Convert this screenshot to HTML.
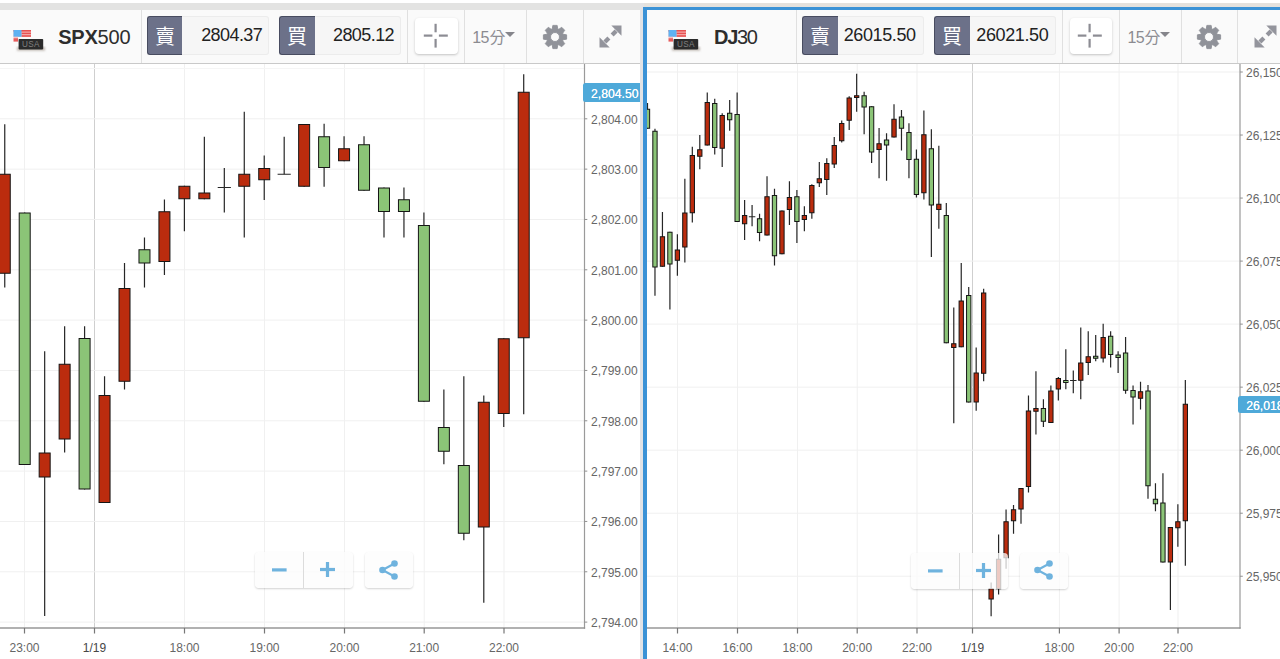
<!DOCTYPE html>
<html><head><meta charset="utf-8"><title>charts</title>
<style>
html,body{margin:0;padding:0;}
body{width:1280px;height:659px;overflow:hidden;background:#fff;position:relative;font-family:"Liberation Sans",sans-serif;}
.strip{position:absolute;left:0;top:3px;height:7px;background:#e3e3e2;}
.strip.l{width:640px;}
.strip.r{left:640px;width:640px;height:4px;background:#e4e1dd;}
.gap{position:absolute;left:639.5px;top:3px;width:4px;height:656px;background:#e2e3e6;}
.blueL{position:absolute;left:643.3px;top:6.6px;width:3.6px;height:653px;background:#3b92d6;}
.blueT{position:absolute;left:643.3px;top:6.6px;width:637px;height:3.5px;background:#3b92d6;}
.chart{position:absolute;left:0;top:0;}
.hdr{position:absolute;top:10px;height:52.5px;background:#fafafa;border-bottom:1px solid #c9c9c9;}
.hdr.l{left:0;width:639.5px;}
.hdr.r{left:647px;width:633px;}
.dv1{position:absolute;top:0;width:1px;height:52.5px;background:#e0e0e0;}
.cjk{display:inline-block;vertical-align:middle;}
.flag{position:absolute;top:18px;left:0;}
.sym{position:absolute;top:15.1px;font-size:20px;color:#2d2d2d;letter-spacing:-0.45px;white-space:nowrap;line-height:24px;}
.sym b{font-weight:bold;}
.q{position:absolute;top:5.5px;height:39.5px;}
.tag{position:absolute;left:0;top:0;width:35.5px;height:39.5px;background:#6c7189;border:1px solid #484c60;border-right:none;box-sizing:border-box;border-radius:3px 0 0 3px;}
.tag svg{position:absolute;left:6.2px;top:10.4px;}
.val{position:absolute;left:35.5px;top:0.5px;height:38.5px;box-sizing:border-box;background:#f6f6f6;border:1px solid #ececec;border-left:none;border-radius:0 3px 3px 0;font-size:18px;color:#222;line-height:37.8px;text-align:right;}
.xbtn{position:absolute;top:8.3px;width:42.6px;height:36px;background:#fff;border-radius:4px;box-shadow:0 1px 2.5px rgba(0,0,0,0.22);}
.xbtn svg{position:absolute;left:7.5px;top:4.9px;}
.tf{color:#8b8b91;font-size:16px;position:absolute;left:0;top:0;}
.t15{position:absolute;top:18.7px;line-height:18px;letter-spacing:-0.5px;}
.tf .cjk{position:absolute !important;}
.caret{position:absolute;width:0;height:0;border-left:5.2px solid transparent;border-right:5.2px solid transparent;border-top:5.9px solid #85858b;}
.gear,.expand{position:absolute;}
.zb{position:absolute;height:36px;background:rgba(252,252,252,0.76);border-radius:4px;box-shadow:0 1px 2px rgba(0,0,0,0.18);}
.zb .dv{position:absolute;left:48.2px;top:0;width:1px;height:36px;background:#dcdcdc;}
.zb svg{position:absolute;}
.tagp{position:absolute;background:#4ea9d9;color:#fff;font-size:12.2px;line-height:18.5px;height:18.5px;border-radius:2.5px 0 0 2.5px;box-sizing:border-box;white-space:nowrap;overflow:hidden;text-shadow:0 0 0.6px #fff;}
</style></head><body>
<div class="strip l"></div><div class="strip r"></div>
<svg class="chart" width="1280" height="659" viewBox="0 0 1280 659">
<g>
<rect x="24" y="63" width="1" height="565" fill="#f0f0f0"/>
<rect x="184" y="63" width="1" height="565" fill="#f0f0f0"/>
<rect x="264" y="63" width="1" height="565" fill="#f0f0f0"/>
<rect x="344" y="63" width="1" height="565" fill="#f0f0f0"/>
<rect x="423.7" y="63" width="1" height="565" fill="#f0f0f0"/>
<rect x="503.5" y="63" width="1" height="565" fill="#f0f0f0"/>
<rect x="94" y="63" width="1" height="565" fill="#cfcfcf"/>
<rect x="0" y="118.3" width="584" height="1" fill="#f0f0f0"/>
<rect x="0" y="168.63" width="584" height="1" fill="#f0f0f0"/>
<rect x="0" y="218.96" width="584" height="1" fill="#f0f0f0"/>
<rect x="0" y="269.29" width="584" height="1" fill="#f0f0f0"/>
<rect x="0" y="319.62" width="584" height="1" fill="#f0f0f0"/>
<rect x="0" y="369.95" width="584" height="1" fill="#f0f0f0"/>
<rect x="0" y="420.28" width="584" height="1" fill="#f0f0f0"/>
<rect x="0" y="470.61" width="584" height="1" fill="#f0f0f0"/>
<rect x="0" y="520.94" width="584" height="1" fill="#f0f0f0"/>
<rect x="0" y="571.27" width="584" height="1" fill="#f0f0f0"/>
<rect x="0" y="621.6" width="584" height="1" fill="#f0f0f0"/>
<rect x="0" y="68" width="584" height="1" fill="#f5f5f5"/>
<rect x="677" y="63" width="1" height="565" fill="#f0f0f0"/>
<rect x="737" y="63" width="1" height="565" fill="#f0f0f0"/>
<rect x="797" y="63" width="1" height="565" fill="#f0f0f0"/>
<rect x="856.7" y="63" width="1" height="565" fill="#f0f0f0"/>
<rect x="916.5" y="63" width="1" height="565" fill="#f0f0f0"/>
<rect x="1058.9" y="63" width="1" height="565" fill="#f0f0f0"/>
<rect x="1118.6" y="63" width="1" height="565" fill="#f0f0f0"/>
<rect x="1177.5" y="63" width="1" height="565" fill="#f0f0f0"/>
<rect x="972" y="63" width="1" height="565" fill="#cfcfcf"/>
<rect x="647" y="71.5" width="593" height="1" fill="#f0f0f0"/>
<rect x="647" y="134.53" width="593" height="1" fill="#f0f0f0"/>
<rect x="647" y="197.56" width="593" height="1" fill="#f0f0f0"/>
<rect x="647" y="260.59" width="593" height="1" fill="#f0f0f0"/>
<rect x="647" y="323.62" width="593" height="1" fill="#f0f0f0"/>
<rect x="647" y="386.65" width="593" height="1" fill="#f0f0f0"/>
<rect x="647" y="449.68" width="593" height="1" fill="#f0f0f0"/>
<rect x="647" y="512.71" width="593" height="1" fill="#f0f0f0"/>
<rect x="647" y="575.74" width="593" height="1" fill="#f0f0f0"/>
</g>
<g>
<rect x="4.15" y="124.25" width="1.2" height="163.25" fill="#262626"/>
<rect x="-0.75" y="174.25" width="11" height="99" fill="#bb2c0e" stroke="#151515" stroke-width="1"/>
<rect x="24.11" y="212.5" width="1.2" height="252.5" fill="#262626"/>
<rect x="19.21" y="213" width="11" height="251.5" fill="#8bc477" stroke="#151515" stroke-width="1"/>
<rect x="44.07" y="351.25" width="1.2" height="264.75" fill="#262626"/>
<rect x="39.17" y="453" width="11" height="24" fill="#bb2c0e" stroke="#151515" stroke-width="1"/>
<rect x="64.03" y="326.25" width="1.2" height="126.25" fill="#262626"/>
<rect x="59.13" y="364.25" width="11" height="74.75" fill="#bb2c0e" stroke="#151515" stroke-width="1"/>
<rect x="83.99" y="326.25" width="1.2" height="163.25" fill="#262626"/>
<rect x="79.09" y="338.5" width="11" height="150.5" fill="#8bc477" stroke="#151515" stroke-width="1"/>
<rect x="103.95" y="376.25" width="1.2" height="126.75" fill="#262626"/>
<rect x="99.05" y="395.5" width="11" height="107" fill="#bb2c0e" stroke="#151515" stroke-width="1"/>
<rect x="123.91" y="263" width="1.2" height="126.5" fill="#262626"/>
<rect x="119.01" y="288.5" width="11" height="92.75" fill="#bb2c0e" stroke="#151515" stroke-width="1"/>
<rect x="143.87" y="237.5" width="1.2" height="50" fill="#262626"/>
<rect x="138.97" y="249.75" width="11" height="13.25" fill="#8bc477" stroke="#151515" stroke-width="1"/>
<rect x="163.83" y="199.5" width="1.2" height="75.5" fill="#262626"/>
<rect x="158.93" y="211.75" width="11" height="49.75" fill="#bb2c0e" stroke="#151515" stroke-width="1"/>
<rect x="183.79" y="185.75" width="1.2" height="45.5" fill="#262626"/>
<rect x="178.89" y="186.25" width="11" height="12.5" fill="#bb2c0e" stroke="#151515" stroke-width="1"/>
<rect x="203.75" y="136.75" width="1.2" height="62.5" fill="#262626"/>
<rect x="198.85" y="193" width="11" height="5.75" fill="#bb2c0e" stroke="#151515" stroke-width="1"/>
<rect x="223.71" y="168" width="1.2" height="44.5" fill="#262626"/>
<rect x="217.71" y="187" width="13.2" height="1" fill="#262626"/>
<rect x="243.67" y="111.75" width="1.2" height="125.75" fill="#262626"/>
<rect x="238.77" y="174.25" width="11" height="12" fill="#bb2c0e" stroke="#151515" stroke-width="1"/>
<rect x="263.63" y="155.5" width="1.2" height="44.5" fill="#262626"/>
<rect x="258.73" y="168.5" width="11" height="11.25" fill="#bb2c0e" stroke="#151515" stroke-width="1"/>
<rect x="283.59" y="136.75" width="1.2" height="37.5" fill="#262626"/>
<rect x="277.59" y="173.75" width="13.2" height="1" fill="#262626"/>
<rect x="303.55" y="124" width="1.2" height="62.75" fill="#262626"/>
<rect x="298.65" y="124.5" width="11" height="61.75" fill="#bb2c0e" stroke="#151515" stroke-width="1"/>
<rect x="323.51" y="123.75" width="1.2" height="63" fill="#262626"/>
<rect x="318.61" y="136.75" width="11" height="30.75" fill="#8bc477" stroke="#151515" stroke-width="1"/>
<rect x="343.47" y="136.25" width="1.2" height="25" fill="#262626"/>
<rect x="338.57" y="148.75" width="11" height="12" fill="#bb2c0e" stroke="#151515" stroke-width="1"/>
<rect x="363.43" y="136.25" width="1.2" height="54.5" fill="#262626"/>
<rect x="358.53" y="144.75" width="11" height="45.5" fill="#8bc477" stroke="#151515" stroke-width="1"/>
<rect x="383.39" y="187.5" width="1.2" height="50" fill="#262626"/>
<rect x="378.49" y="188" width="11" height="23.5" fill="#8bc477" stroke="#151515" stroke-width="1"/>
<rect x="403.35" y="187.5" width="1.2" height="50" fill="#262626"/>
<rect x="398.45" y="199.75" width="11" height="11.75" fill="#8bc477" stroke="#151515" stroke-width="1"/>
<rect x="423.31" y="212.5" width="1.2" height="189.25" fill="#262626"/>
<rect x="418.41" y="225.5" width="11" height="175.75" fill="#8bc477" stroke="#151515" stroke-width="1"/>
<rect x="443.27" y="389.5" width="1.2" height="74.75" fill="#262626"/>
<rect x="438.37" y="427.5" width="11" height="23.75" fill="#8bc477" stroke="#151515" stroke-width="1"/>
<rect x="463.23" y="376.25" width="1.2" height="164" fill="#262626"/>
<rect x="458.33" y="465.5" width="11" height="67.75" fill="#8bc477" stroke="#151515" stroke-width="1"/>
<rect x="483.19" y="395.5" width="1.2" height="207.25" fill="#262626"/>
<rect x="478.29" y="402.25" width="11" height="124.75" fill="#bb2c0e" stroke="#151515" stroke-width="1"/>
<rect x="503.15" y="338.25" width="1.2" height="88.75" fill="#262626"/>
<rect x="498.25" y="338.75" width="11" height="74.75" fill="#bb2c0e" stroke="#151515" stroke-width="1"/>
<rect x="523.11" y="74.25" width="1.2" height="340" fill="#262626"/>
<rect x="518.21" y="92.25" width="11" height="245.5" fill="#bb2c0e" stroke="#151515" stroke-width="1"/>
</g>
<g>
<rect x="646.9" y="103" width="1.2" height="25.75" fill="#262626"/>
<rect x="645.35" y="109.25" width="4.3" height="19" fill="#8bc477" stroke="#151515" stroke-width="1"/>
<rect x="654.37" y="128.75" width="1.2" height="167" fill="#262626"/>
<rect x="652.82" y="131.25" width="4.3" height="135.75" fill="#8bc477" stroke="#151515" stroke-width="1"/>
<rect x="661.84" y="212" width="1.2" height="54.75" fill="#262626"/>
<rect x="660.29" y="236.75" width="4.3" height="29.5" fill="#bb2c0e" stroke="#151515" stroke-width="1"/>
<rect x="669.31" y="231.75" width="1.2" height="77.75" fill="#262626"/>
<rect x="667.76" y="232.25" width="4.3" height="31.75" fill="#8bc477" stroke="#151515" stroke-width="1"/>
<rect x="676.78" y="234.25" width="1.2" height="41.5" fill="#262626"/>
<rect x="675.23" y="250" width="4.3" height="10.25" fill="#bb2c0e" stroke="#151515" stroke-width="1"/>
<rect x="684.25" y="178.75" width="1.2" height="83.75" fill="#262626"/>
<rect x="682.7" y="213" width="4.3" height="34" fill="#bb2c0e" stroke="#151515" stroke-width="1"/>
<rect x="691.72" y="146.75" width="1.2" height="75.75" fill="#262626"/>
<rect x="690.17" y="155.5" width="4.3" height="57.25" fill="#bb2c0e" stroke="#151515" stroke-width="1"/>
<rect x="699.19" y="135" width="1.2" height="34.25" fill="#262626"/>
<rect x="697.64" y="149.75" width="4.3" height="6.5" fill="#bb2c0e" stroke="#151515" stroke-width="1"/>
<rect x="706.66" y="92.5" width="1.2" height="53" fill="#262626"/>
<rect x="705.11" y="102.5" width="4.3" height="42.5" fill="#bb2c0e" stroke="#151515" stroke-width="1"/>
<rect x="714.13" y="98.75" width="1.2" height="55.75" fill="#262626"/>
<rect x="712.58" y="103.5" width="4.3" height="44" fill="#8bc477" stroke="#151515" stroke-width="1"/>
<rect x="721.6" y="113.25" width="1.2" height="53.75" fill="#262626"/>
<rect x="720.05" y="115.5" width="4.3" height="32.75" fill="#bb2c0e" stroke="#151515" stroke-width="1"/>
<rect x="729.07" y="100" width="1.2" height="30.75" fill="#262626"/>
<rect x="727.52" y="113.25" width="4.3" height="6.5" fill="#8bc477" stroke="#151515" stroke-width="1"/>
<rect x="736.54" y="92.5" width="1.2" height="129.5" fill="#262626"/>
<rect x="734.99" y="114.5" width="4.3" height="107" fill="#8bc477" stroke="#151515" stroke-width="1"/>
<rect x="744.01" y="200" width="1.2" height="40" fill="#262626"/>
<rect x="742.46" y="215.5" width="4.3" height="8.25" fill="#bb2c0e" stroke="#151515" stroke-width="1"/>
<rect x="751.48" y="205" width="1.2" height="21.25" fill="#262626"/>
<rect x="748.83" y="216.25" width="6.5" height="1" fill="#262626"/>
<rect x="758.95" y="213.75" width="1.2" height="27.5" fill="#262626"/>
<rect x="757.4" y="218.75" width="4.3" height="13.75" fill="#8bc477" stroke="#151515" stroke-width="1"/>
<rect x="766.42" y="176.25" width="1.2" height="59.25" fill="#262626"/>
<rect x="764.87" y="196.75" width="4.3" height="38.25" fill="#bb2c0e" stroke="#151515" stroke-width="1"/>
<rect x="773.89" y="188.75" width="1.2" height="76.75" fill="#262626"/>
<rect x="772.34" y="195.5" width="4.3" height="60.25" fill="#8bc477" stroke="#151515" stroke-width="1"/>
<rect x="781.36" y="210.5" width="1.2" height="43.75" fill="#262626"/>
<rect x="779.81" y="211" width="4.3" height="42.75" fill="#bb2c0e" stroke="#151515" stroke-width="1"/>
<rect x="788.83" y="181.25" width="1.2" height="43.75" fill="#262626"/>
<rect x="787.28" y="197.5" width="4.3" height="12" fill="#bb2c0e" stroke="#151515" stroke-width="1"/>
<rect x="796.3" y="190" width="1.2" height="53" fill="#262626"/>
<rect x="794.75" y="196.75" width="4.3" height="24.75" fill="#8bc477" stroke="#151515" stroke-width="1"/>
<rect x="803.77" y="206.25" width="1.2" height="25" fill="#262626"/>
<rect x="802.22" y="215.5" width="4.3" height="4" fill="#bb2c0e" stroke="#151515" stroke-width="1"/>
<rect x="811.24" y="184.25" width="1.2" height="34.5" fill="#262626"/>
<rect x="809.69" y="185.5" width="4.3" height="27.25" fill="#bb2c0e" stroke="#151515" stroke-width="1"/>
<rect x="818.71" y="162" width="1.2" height="25" fill="#262626"/>
<rect x="817.16" y="178.75" width="4.3" height="4" fill="#bb2c0e" stroke="#151515" stroke-width="1"/>
<rect x="826.18" y="158.25" width="1.2" height="36.75" fill="#262626"/>
<rect x="824.63" y="163.5" width="4.3" height="16" fill="#bb2c0e" stroke="#151515" stroke-width="1"/>
<rect x="833.65" y="137" width="1.2" height="31" fill="#262626"/>
<rect x="832.1" y="145.5" width="4.3" height="18.5" fill="#bb2c0e" stroke="#151515" stroke-width="1"/>
<rect x="841.12" y="120.5" width="1.2" height="22" fill="#262626"/>
<rect x="839.57" y="123.5" width="4.3" height="17.25" fill="#bb2c0e" stroke="#151515" stroke-width="1"/>
<rect x="848.59" y="96.25" width="1.2" height="33.75" fill="#262626"/>
<rect x="847.04" y="98" width="4.3" height="22.25" fill="#bb2c0e" stroke="#151515" stroke-width="1"/>
<rect x="856.06" y="73.75" width="1.2" height="38" fill="#262626"/>
<rect x="854.51" y="95.75" width="4.3" height="1.75" fill="#bb2c0e" stroke="#151515" stroke-width="1"/>
<rect x="863.53" y="91.75" width="1.2" height="42.5" fill="#262626"/>
<rect x="861.98" y="95.75" width="4.3" height="11.25" fill="#8bc477" stroke="#151515" stroke-width="1"/>
<rect x="871" y="106.25" width="1.2" height="56.75" fill="#262626"/>
<rect x="869.45" y="106.75" width="4.3" height="45.25" fill="#8bc477" stroke="#151515" stroke-width="1"/>
<rect x="878.47" y="128" width="1.2" height="50.25" fill="#262626"/>
<rect x="876.92" y="143.75" width="4.3" height="5.75" fill="#bb2c0e" stroke="#151515" stroke-width="1"/>
<rect x="885.94" y="133.25" width="1.2" height="47.5" fill="#262626"/>
<rect x="884.39" y="140" width="4.3" height="5" fill="#8bc477" stroke="#151515" stroke-width="1"/>
<rect x="893.41" y="104.25" width="1.2" height="33.25" fill="#262626"/>
<rect x="891.86" y="119.25" width="4.3" height="17.75" fill="#bb2c0e" stroke="#151515" stroke-width="1"/>
<rect x="900.88" y="110" width="1.2" height="40.5" fill="#262626"/>
<rect x="899.33" y="117" width="4.3" height="11.25" fill="#8bc477" stroke="#151515" stroke-width="1"/>
<rect x="908.35" y="123.25" width="1.2" height="55" fill="#262626"/>
<rect x="906.8" y="132.5" width="4.3" height="27" fill="#8bc477" stroke="#151515" stroke-width="1"/>
<rect x="915.82" y="149.5" width="1.2" height="48" fill="#262626"/>
<rect x="914.27" y="159.25" width="4.3" height="35.25" fill="#8bc477" stroke="#151515" stroke-width="1"/>
<rect x="923.29" y="110.5" width="1.2" height="89" fill="#262626"/>
<rect x="921.74" y="134.75" width="4.3" height="58" fill="#bb2c0e" stroke="#151515" stroke-width="1"/>
<rect x="930.76" y="129.25" width="1.2" height="127.75" fill="#262626"/>
<rect x="929.21" y="148.75" width="4.3" height="56.25" fill="#8bc477" stroke="#151515" stroke-width="1"/>
<rect x="938.23" y="145.75" width="1.2" height="83" fill="#262626"/>
<rect x="936.68" y="204.25" width="4.3" height="5.25" fill="#bb2c0e" stroke="#151515" stroke-width="1"/>
<rect x="945.7" y="203" width="1.2" height="140.25" fill="#262626"/>
<rect x="944.15" y="215.5" width="4.3" height="127.25" fill="#8bc477" stroke="#151515" stroke-width="1"/>
<rect x="953.17" y="307.5" width="1.2" height="115.75" fill="#262626"/>
<rect x="951.62" y="343.75" width="4.3" height="3.75" fill="#bb2c0e" stroke="#151515" stroke-width="1"/>
<rect x="960.64" y="263" width="1.2" height="84.25" fill="#262626"/>
<rect x="959.09" y="301" width="4.3" height="45.75" fill="#bb2c0e" stroke="#151515" stroke-width="1"/>
<rect x="968.11" y="287" width="1.2" height="115.5" fill="#262626"/>
<rect x="966.56" y="295.5" width="4.3" height="106.5" fill="#8bc477" stroke="#151515" stroke-width="1"/>
<rect x="975.58" y="347.5" width="1.2" height="63.25" fill="#262626"/>
<rect x="974.03" y="373" width="4.3" height="29" fill="#bb2c0e" stroke="#151515" stroke-width="1"/>
<rect x="983.05" y="288.75" width="1.2" height="92.5" fill="#262626"/>
<rect x="981.5" y="293" width="4.3" height="80.25" fill="#bb2c0e" stroke="#151515" stroke-width="1"/>
<rect x="990.52" y="582.5" width="1.2" height="33.75" fill="#262626"/>
<rect x="988.97" y="588.75" width="4.3" height="10.25" fill="#bb2c0e" stroke="#151515" stroke-width="1"/>
<rect x="997.99" y="534.5" width="1.2" height="60" fill="#262626"/>
<rect x="996.44" y="559.25" width="4.3" height="29.5" fill="#bb2c0e" stroke="#151515" stroke-width="1"/>
<rect x="1005.46" y="509.5" width="1.2" height="59.25" fill="#262626"/>
<rect x="1003.91" y="521.75" width="4.3" height="36" fill="#bb2c0e" stroke="#151515" stroke-width="1"/>
<rect x="1012.93" y="505" width="1.2" height="28.75" fill="#262626"/>
<rect x="1011.38" y="509.75" width="4.3" height="11" fill="#bb2c0e" stroke="#151515" stroke-width="1"/>
<rect x="1020.4" y="488" width="1.2" height="35.75" fill="#262626"/>
<rect x="1018.85" y="488.5" width="4.3" height="20.5" fill="#bb2c0e" stroke="#151515" stroke-width="1"/>
<rect x="1027.87" y="395.5" width="1.2" height="97" fill="#262626"/>
<rect x="1026.32" y="411" width="4.3" height="75.5" fill="#bb2c0e" stroke="#151515" stroke-width="1"/>
<rect x="1035.34" y="371.25" width="1.2" height="63.25" fill="#262626"/>
<rect x="1033.79" y="408.5" width="4.3" height="2.75" fill="#bb2c0e" stroke="#151515" stroke-width="1"/>
<rect x="1042.81" y="399.25" width="1.2" height="27.75" fill="#262626"/>
<rect x="1041.26" y="408.5" width="4.3" height="12.75" fill="#8bc477" stroke="#151515" stroke-width="1"/>
<rect x="1050.28" y="385.5" width="1.2" height="37.5" fill="#262626"/>
<rect x="1048.73" y="391" width="4.3" height="31.5" fill="#bb2c0e" stroke="#151515" stroke-width="1"/>
<rect x="1057.75" y="377" width="1.2" height="23.5" fill="#262626"/>
<rect x="1056.2" y="378.5" width="4.3" height="10.5" fill="#bb2c0e" stroke="#151515" stroke-width="1"/>
<rect x="1065.22" y="349.25" width="1.2" height="40" fill="#262626"/>
<rect x="1063.67" y="380.5" width="4.3" height="2" fill="#8bc477" stroke="#151515" stroke-width="1"/>
<rect x="1072.69" y="370.5" width="1.2" height="22.75" fill="#262626"/>
<rect x="1070.04" y="380" width="6.5" height="1" fill="#262626"/>
<rect x="1080.16" y="327.5" width="1.2" height="71.75" fill="#262626"/>
<rect x="1078.61" y="363" width="4.3" height="17.25" fill="#bb2c0e" stroke="#151515" stroke-width="1"/>
<rect x="1087.63" y="331.25" width="1.2" height="43.75" fill="#262626"/>
<rect x="1086.08" y="356.75" width="4.3" height="5.75" fill="#bb2c0e" stroke="#151515" stroke-width="1"/>
<rect x="1095.1" y="335" width="1.2" height="26.25" fill="#262626"/>
<rect x="1093.55" y="356.25" width="4.3" height="2" fill="#8bc477" stroke="#151515" stroke-width="1"/>
<rect x="1102.57" y="323.75" width="1.2" height="38.75" fill="#262626"/>
<rect x="1101.02" y="337.5" width="4.3" height="20.5" fill="#bb2c0e" stroke="#151515" stroke-width="1"/>
<rect x="1110.04" y="331.25" width="1.2" height="36.25" fill="#262626"/>
<rect x="1108.49" y="336.25" width="4.3" height="18.25" fill="#8bc477" stroke="#151515" stroke-width="1"/>
<rect x="1117.51" y="351.25" width="1.2" height="21.75" fill="#262626"/>
<rect x="1115.96" y="355" width="4.3" height="2.5" fill="#8bc477" stroke="#151515" stroke-width="1"/>
<rect x="1124.98" y="337" width="1.2" height="56.75" fill="#262626"/>
<rect x="1123.43" y="353" width="4.3" height="37.25" fill="#8bc477" stroke="#151515" stroke-width="1"/>
<rect x="1132.45" y="385.5" width="1.2" height="39" fill="#262626"/>
<rect x="1130.9" y="390.5" width="4.3" height="6.5" fill="#8bc477" stroke="#151515" stroke-width="1"/>
<rect x="1139.92" y="381.75" width="1.2" height="27.75" fill="#262626"/>
<rect x="1138.37" y="391.75" width="4.3" height="6.5" fill="#bb2c0e" stroke="#151515" stroke-width="1"/>
<rect x="1147.39" y="385" width="1.2" height="113.75" fill="#262626"/>
<rect x="1145.84" y="391" width="4.3" height="94.75" fill="#8bc477" stroke="#151515" stroke-width="1"/>
<rect x="1154.86" y="483.25" width="1.2" height="28" fill="#262626"/>
<rect x="1153.31" y="499.25" width="4.3" height="4.5" fill="#8bc477" stroke="#151515" stroke-width="1"/>
<rect x="1162.33" y="473.25" width="1.2" height="89.25" fill="#262626"/>
<rect x="1160.78" y="503" width="4.3" height="59" fill="#8bc477" stroke="#151515" stroke-width="1"/>
<rect x="1169.8" y="527" width="1.2" height="83" fill="#262626"/>
<rect x="1168.25" y="527.5" width="4.3" height="34.5" fill="#bb2c0e" stroke="#151515" stroke-width="1"/>
<rect x="1177.27" y="504.25" width="1.2" height="42.5" fill="#262626"/>
<rect x="1175.72" y="521.75" width="4.3" height="6" fill="#bb2c0e" stroke="#151515" stroke-width="1"/>
<rect x="1184.74" y="380" width="1.2" height="185.75" fill="#262626"/>
<rect x="1183.19" y="404.25" width="4.3" height="116.5" fill="#bb2c0e" stroke="#151515" stroke-width="1"/>
</g>
<g>
<rect x="583.9" y="63" width="1.2" height="565.65" fill="#9a9a9a"/>
<rect x="0" y="627.3" width="585.15" height="1.4" fill="#919191"/>
<rect x="23.9" y="628" width="1.2" height="5.5" fill="#777"/>
<rect x="93.9" y="628" width="1.2" height="5.5" fill="#777"/>
<rect x="183.9" y="628" width="1.2" height="5.5" fill="#777"/>
<rect x="263.9" y="628" width="1.2" height="5.5" fill="#777"/>
<rect x="343.9" y="628" width="1.2" height="5.5" fill="#777"/>
<rect x="423.6" y="628" width="1.2" height="5.5" fill="#777"/>
<rect x="503.4" y="628" width="1.2" height="5.5" fill="#777"/>
<rect x="584.5" y="118.3" width="2.8" height="1" fill="#919191"/>
<rect x="584.5" y="168.63" width="2.8" height="1" fill="#919191"/>
<rect x="584.5" y="218.96" width="2.8" height="1" fill="#919191"/>
<rect x="584.5" y="269.29" width="2.8" height="1" fill="#919191"/>
<rect x="584.5" y="319.62" width="2.8" height="1" fill="#919191"/>
<rect x="584.5" y="369.95" width="2.8" height="1" fill="#919191"/>
<rect x="584.5" y="420.28" width="2.8" height="1" fill="#919191"/>
<rect x="584.5" y="470.61" width="2.8" height="1" fill="#919191"/>
<rect x="584.5" y="520.94" width="2.8" height="1" fill="#919191"/>
<rect x="584.5" y="571.27" width="2.8" height="1" fill="#919191"/>
<rect x="584.5" y="621.6" width="2.8" height="1" fill="#919191"/>
<rect x="1239.4" y="63" width="1.2" height="565.65" fill="#9a9a9a"/>
<rect x="647" y="627.3" width="593.65" height="1.4" fill="#919191"/>
<rect x="676.9" y="628" width="1.2" height="5.5" fill="#777"/>
<rect x="736.9" y="628" width="1.2" height="5.5" fill="#777"/>
<rect x="796.9" y="628" width="1.2" height="5.5" fill="#777"/>
<rect x="856.6" y="628" width="1.2" height="5.5" fill="#777"/>
<rect x="916.4" y="628" width="1.2" height="5.5" fill="#777"/>
<rect x="971.9" y="628" width="1.2" height="5.5" fill="#777"/>
<rect x="1058.8" y="628" width="1.2" height="5.5" fill="#777"/>
<rect x="1118.5" y="628" width="1.2" height="5.5" fill="#777"/>
<rect x="1177.4" y="628" width="1.2" height="5.5" fill="#777"/>
<rect x="1240" y="71.5" width="2.8" height="1" fill="#919191"/>
<rect x="1240" y="134.53" width="2.8" height="1" fill="#919191"/>
<rect x="1240" y="197.56" width="2.8" height="1" fill="#919191"/>
<rect x="1240" y="260.59" width="2.8" height="1" fill="#919191"/>
<rect x="1240" y="323.62" width="2.8" height="1" fill="#919191"/>
<rect x="1240" y="386.65" width="2.8" height="1" fill="#919191"/>
<rect x="1240" y="449.68" width="2.8" height="1" fill="#919191"/>
<rect x="1240" y="512.71" width="2.8" height="1" fill="#919191"/>
<rect x="1240" y="575.74" width="2.8" height="1" fill="#919191"/>
</g>
<g font-family="Liberation Sans, sans-serif" font-size="12" fill="#666">
<text x="591" y="123.6">2,804.00</text>
<text x="591" y="173.93">2,803.00</text>
<text x="591" y="224.26">2,802.00</text>
<text x="591" y="274.59">2,801.00</text>
<text x="591" y="324.92">2,800.00</text>
<text x="591" y="375.25">2,799.00</text>
<text x="591" y="425.58">2,798.00</text>
<text x="591" y="475.91">2,797.00</text>
<text x="591" y="526.24">2,796.00</text>
<text x="591" y="576.57">2,795.00</text>
<text x="591" y="626.9">2,794.00</text>
<text x="1246" y="77.2">26,150</text>
<text x="1246" y="140.23">26,125</text>
<text x="1246" y="203.26">26,100</text>
<text x="1246" y="266.29">26,075</text>
<text x="1246" y="329.32">26,050</text>
<text x="1246" y="392.35">26,025</text>
<text x="1246" y="455.38">26,000</text>
<text x="1246" y="518.41">25,975</text>
<text x="1246" y="581.44">25,950</text>
<text x="24.5" y="652.3" text-anchor="middle">23:00</text>
<text x="94.5" y="652.3" text-anchor="middle" fill="#474747">1/19</text>
<text x="184.5" y="652.3" text-anchor="middle">18:00</text>
<text x="264.5" y="652.3" text-anchor="middle">19:00</text>
<text x="344.5" y="652.3" text-anchor="middle">20:00</text>
<text x="424.2" y="652.3" text-anchor="middle">21:00</text>
<text x="504" y="652.3" text-anchor="middle">22:00</text>
<text x="677.5" y="652.3" text-anchor="middle">14:00</text>
<text x="737.5" y="652.3" text-anchor="middle">16:00</text>
<text x="797.5" y="652.3" text-anchor="middle">18:00</text>
<text x="857.2" y="652.3" text-anchor="middle">20:00</text>
<text x="917" y="652.3" text-anchor="middle">22:00</text>
<text x="972.5" y="652.3" text-anchor="middle" fill="#474747">1/19</text>
<text x="1059.4" y="652.3" text-anchor="middle">18:00</text>
<text x="1119.1" y="652.3" text-anchor="middle">20:00</text>
<text x="1178" y="652.3" text-anchor="middle">22:00</text>
</g>
</svg>
<div class="gap"></div>
<div class="hdr l">
<div class="dv1" style="left:140.75px"></div>
<div class="dv1" style="left:407.4px"></div>
<div class="dv1" style="left:464.2px"></div>
<div class="dv1" style="left:526.1px"></div>
<div class="dv1" style="left:583.3px"></div>
<div style="position:absolute;left:11.5px;top:0"><svg class="flag" width="36" height="26" viewBox="0 0 36 26">
<defs><filter id="fb" x="-20%" y="-20%" width="140%" height="160%"><feGaussianBlur stdDeviation="0.9"/></filter></defs>
<rect x="1.5" y="2" width="17.5" height="6.8" fill="#f7b9b9"/>
<rect x="1.5" y="2" width="17.5" height="1.6" fill="#e85252"/>
<rect x="9.5" y="4.6" width="9.5" height="1.6" fill="#e85252"/>
<rect x="9.5" y="7.2" width="9.5" height="1.6" fill="#e85252"/>
<rect x="1.5" y="2" width="8" height="6.8" fill="#5fb2f2"/>
<rect x="1.5" y="8.8" width="4.5" height="1.4" fill="#f7c4c4"/>
<rect x="1.5" y="10.2" width="4.5" height="3.4" fill="#e85c5c"/>
<rect x="5" y="19" width="28" height="3.6" fill="#bdb5ad" filter="url(#fb)"/>
<rect x="6.6" y="11" width="24.6" height="10.4" rx="0.8" fill="#2b2b2b"/>
<text x="18.9" y="19.3" font-family="Liberation Sans, sans-serif" font-size="8.2" fill="#808080" text-anchor="middle" letter-spacing="0.3">USA</text>
</svg></div>
<span class="sym" style="left:58.2px;letter-spacing:-0.2px"><b>SPX</b>500</span>
<div class="q" style="left:146.5px;width:122.4px"><span class="tag"><svg class="cjk" width="22.1" height="19.4" viewBox="0 0 22.1 19.4" style="overflow:visible;"><text x="11.05" y="17" text-anchor="middle" font-size="20" fill="#fff" font-family="'Liberation Sans','Noto Sans CJK TC',sans-serif">賣</text></svg></span><span class="val" style="width:86.9px;padding-right:5.7px;letter-spacing:-0.58px">2804.37</span></div>
<div class="q" style="left:279px;width:121.7px"><span class="tag"><svg class="cjk" width="22.1" height="19.4" viewBox="0 0 22.1 19.4" style="overflow:visible;"><text x="11.05" y="17" text-anchor="middle" font-size="20" fill="#fff" font-family="'Liberation Sans','Noto Sans CJK TC',sans-serif">買</text></svg></span><span class="val" style="width:86.2px;padding-right:5.7px;letter-spacing:-0.58px">2805.12</span></div>
<div class="xbtn" style="left:415px"><svg class="cross" width="26" height="26" viewBox="0 0 26 26"><g fill="#8c8c93"><rect x="11.5" y="0.8" width="2.2" height="8.5"/><rect x="11.5" y="15.9" width="2.2" height="8.7"/><rect x="0.8" y="11.5" width="8.6" height="2.2"/><rect x="15.9" y="11.5" width="8.9" height="2.2"/></g></svg></div>
<div class="tf"><span class="t15" style="left:472.2px">15</span><svg class="cjk" width="16.9" height="15.5" viewBox="0 0 16.9 15.5" style="overflow:visible;left:488.9px;top:19.3px"><text x="8.45" y="13.6" text-anchor="middle" font-size="16" fill="#8e8e94" font-family="'Liberation Sans','Noto Sans CJK TC',sans-serif">分</text></svg><span class="caret" style="left:504.6px;top:22px"></span></div>
<div style="position:absolute;left:541.7px;top:14.2px"><svg class="gear" width="26" height="26" viewBox="-13 -13 26 26"><path fill="#909299" stroke="#909299" stroke-width="0.9" stroke-linejoin="round" fill-rule="evenodd" d="M-2.70 -8.17 L-2.15 -11.60 L2.15 -11.60 L2.70 -8.17 L3.86 -7.68 L6.68 -9.72 L9.72 -6.68 L7.68 -3.86 L8.17 -2.70 L11.60 -2.15 L11.60 2.15 L8.17 2.70 L7.68 3.86 L9.72 6.68 L6.68 9.72 L3.86 7.68 L2.70 8.17 L2.15 11.60 L-2.15 11.60 L-2.70 8.17 L-3.86 7.68 L-6.68 9.72 L-9.72 6.68 L-7.68 3.86 L-8.17 2.70 L-11.60 2.15 L-11.60 -2.15 L-8.17 -2.70 L-7.68 -3.86 L-9.72 -6.68 L-6.68 -9.72 L-3.86 -7.68 Z M4.50 0 A4.50 4.50 0 1 0 -4.50 0 A4.50 4.50 0 1 0 4.50 0 Z"/></svg></div>
<div style="position:absolute;left:599px;top:14.6px"><svg class="expand" width="23" height="23" viewBox="0 0 23 23"><g fill="#93949c"><path d="M12.3 0.5 L22.5 0.5 L22.5 10.7 Z"/><path d="M0.5 12.3 L0.5 22.5 L10.7 22.5 Z"/><path d="M15.6 4.4 L18.6 7.4 L14.6 11.4 L11.6 8.4 Z"/><path d="M8.4 11.6 L11.4 14.6 L7.4 18.6 L4.4 15.6 Z"/></g></svg></div>
</div>
<div class="hdr r">
<div class="dv1" style="left:148.8px"></div>
<div class="dv1" style="left:415.2px"></div>
<div class="dv1" style="left:471.9px"></div>
<div class="dv1" style="left:533.7px"></div>
<div class="dv1" style="left:589.9px"></div>
<div style="position:absolute;left:20px;top:0"><svg class="flag" width="36" height="26" viewBox="0 0 36 26">
<defs><filter id="fb" x="-20%" y="-20%" width="140%" height="160%"><feGaussianBlur stdDeviation="0.9"/></filter></defs>
<rect x="1.5" y="2" width="17.5" height="6.8" fill="#f7b9b9"/>
<rect x="1.5" y="2" width="17.5" height="1.6" fill="#e85252"/>
<rect x="9.5" y="4.6" width="9.5" height="1.6" fill="#e85252"/>
<rect x="9.5" y="7.2" width="9.5" height="1.6" fill="#e85252"/>
<rect x="1.5" y="2" width="8" height="6.8" fill="#5fb2f2"/>
<rect x="1.5" y="8.8" width="4.5" height="1.4" fill="#f7c4c4"/>
<rect x="1.5" y="10.2" width="4.5" height="3.4" fill="#e85c5c"/>
<rect x="5" y="19" width="28" height="3.6" fill="#bdb5ad" filter="url(#fb)"/>
<rect x="6.6" y="11" width="24.6" height="10.4" rx="0.8" fill="#2b2b2b"/>
<text x="18.9" y="19.3" font-family="Liberation Sans, sans-serif" font-size="8.2" fill="#808080" text-anchor="middle" letter-spacing="0.3">USA</text>
</svg></div>
<span class="sym" style="left:67px;letter-spacing:-1.3px"><b>DJ</b>30</span>
<div class="q" style="left:155px;width:121.6px"><span class="tag"><svg class="cjk" width="22.1" height="19.4" viewBox="0 0 22.1 19.4" style="overflow:visible;"><text x="11.05" y="17" text-anchor="middle" font-size="20" fill="#fff" font-family="'Liberation Sans','Noto Sans CJK TC',sans-serif">賣</text></svg></span><span class="val" style="width:86.1px;padding-right:6.9px;letter-spacing:-0.38px">26015.50</span></div>
<div class="q" style="left:287.2px;width:122.1px"><span class="tag"><svg class="cjk" width="22.1" height="19.4" viewBox="0 0 22.1 19.4" style="overflow:visible;"><text x="11.05" y="17" text-anchor="middle" font-size="20" fill="#fff" font-family="'Liberation Sans','Noto Sans CJK TC',sans-serif">買</text></svg></span><span class="val" style="width:86.6px;padding-right:6.9px;letter-spacing:-0.38px">26021.50</span></div>
<div class="xbtn" style="left:422.9px"><svg class="cross" width="26" height="26" viewBox="0 0 26 26"><g fill="#8c8c93"><rect x="11.5" y="0.8" width="2.2" height="8.5"/><rect x="11.5" y="15.9" width="2.2" height="8.7"/><rect x="0.8" y="11.5" width="8.6" height="2.2"/><rect x="15.9" y="11.5" width="8.9" height="2.2"/></g></svg></div>
<div class="tf"><span class="t15" style="left:480.4px">15</span><svg class="cjk" width="16.9" height="15.5" viewBox="0 0 16.9 15.5" style="overflow:visible;left:497.1px;top:19.3px"><text x="8.45" y="13.6" text-anchor="middle" font-size="16" fill="#8e8e94" font-family="'Liberation Sans','Noto Sans CJK TC',sans-serif">分</text></svg><span class="caret" style="left:512.8px;top:22px"></span></div>
<div style="position:absolute;left:549.2px;top:14.2px"><svg class="gear" width="26" height="26" viewBox="-13 -13 26 26"><path fill="#909299" stroke="#909299" stroke-width="0.9" stroke-linejoin="round" fill-rule="evenodd" d="M-2.70 -8.17 L-2.15 -11.60 L2.15 -11.60 L2.70 -8.17 L3.86 -7.68 L6.68 -9.72 L9.72 -6.68 L7.68 -3.86 L8.17 -2.70 L11.60 -2.15 L11.60 2.15 L8.17 2.70 L7.68 3.86 L9.72 6.68 L6.68 9.72 L3.86 7.68 L2.70 8.17 L2.15 11.60 L-2.15 11.60 L-2.70 8.17 L-3.86 7.68 L-6.68 9.72 L-9.72 6.68 L-7.68 3.86 L-8.17 2.70 L-11.60 2.15 L-11.60 -2.15 L-8.17 -2.70 L-7.68 -3.86 L-9.72 -6.68 L-6.68 -9.72 L-3.86 -7.68 Z M4.50 0 A4.50 4.50 0 1 0 -4.50 0 A4.50 4.50 0 1 0 4.50 0 Z"/></svg></div>
<div style="position:absolute;left:607.3px;top:14.6px"><svg class="expand" width="23" height="23" viewBox="0 0 23 23"><g fill="#93949c"><path d="M12.3 0.5 L22.5 0.5 L22.5 10.7 Z"/><path d="M0.5 12.3 L0.5 22.5 L10.7 22.5 Z"/><path d="M15.6 4.4 L18.6 7.4 L14.6 11.4 L11.6 8.4 Z"/><path d="M8.4 11.6 L11.4 14.6 L7.4 18.6 L4.4 15.6 Z"/></g></svg></div>
</div>
<div class="blueL"></div><div class="blueT"></div>

<div class="tagp" style="left:583px;top:83.2px;width:57px;height:18.4px;line-height:23.2px;padding-left:8px;">2,804.50</div>
<div class="tagp" style="left:1238px;top:395.6px;width:42px;height:17.8px;line-height:21.4px;padding-left:8.3px;">26,018.50</div>

<div class="zb" style="left:255px;top:552px;width:97.8px;"><div class="dv"></div>
 <svg style="left:17.3px;top:16px" width="15" height="4"><rect width="14.6" height="3.2" y="0.3" fill="#6fb3de"/></svg>
 <svg style="left:65px;top:10.1px" width="15" height="15"><rect x="5.9" width="3.2" height="15" fill="#6fb3de"/><rect y="5.9" width="15" height="3.2" fill="#6fb3de"/></svg>
</div>
<div class="zb" style="left:364.5px;top:552px;width:48.8px;"><span style="position:absolute;left:13.4px;top:6.5px"><svg width="22" height="22" viewBox="0 0 22 22"><g fill="#6fb3de" stroke="#6fb3de"><circle cx="16.5" cy="4.5" r="3.3" stroke="none"/><circle cx="4.5" cy="11" r="3.3" stroke="none"/><circle cx="16.5" cy="17.5" r="3.3" stroke="none"/><path d="M16.5 4.5 L4.5 11 L16.5 17.5" fill="none" stroke-width="2.2"/></g></svg></span></div>

<div class="zb" style="left:910.5px;top:552.5px;width:97.8px;"><div class="dv"></div>
 <svg style="left:17.3px;top:16px" width="15" height="4"><rect width="14.6" height="3.2" y="0.3" fill="#6fb3de"/></svg>
 <svg style="left:65px;top:10.1px" width="15" height="15"><rect x="5.9" width="3.2" height="15" fill="#6fb3de"/><rect y="5.9" width="15" height="3.2" fill="#6fb3de"/></svg>
</div>
<div class="zb" style="left:1019.5px;top:552.5px;width:48.8px;"><span style="position:absolute;left:13.4px;top:6.5px"><svg width="22" height="22" viewBox="0 0 22 22"><g fill="#6fb3de" stroke="#6fb3de"><circle cx="16.5" cy="4.5" r="3.3" stroke="none"/><circle cx="4.5" cy="11" r="3.3" stroke="none"/><circle cx="16.5" cy="17.5" r="3.3" stroke="none"/><path d="M16.5 4.5 L4.5 11 L16.5 17.5" fill="none" stroke-width="2.2"/></g></svg></span></div>
</body></html>
